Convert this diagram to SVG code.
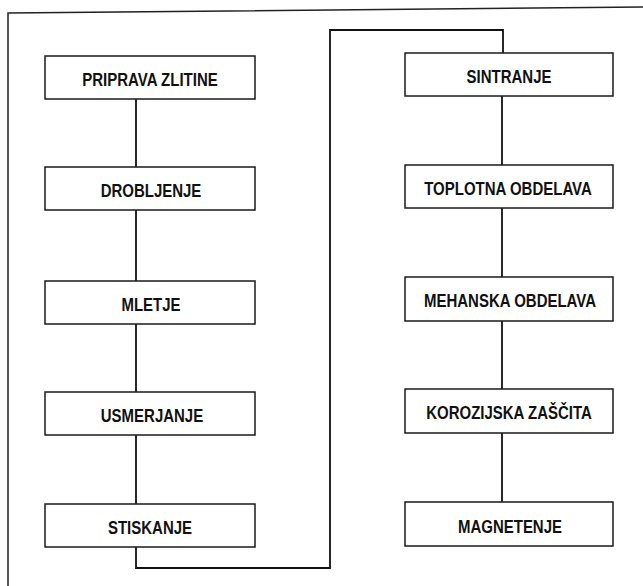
<svg xmlns="http://www.w3.org/2000/svg" width="643" height="586" viewBox="0 0 643 586">
<style>
.box{fill:#fff;stroke:#1a1a1a;stroke-width:1.5}
.lbl{font-family:"Liberation Sans",Arial,sans-serif;font-weight:bold;font-size:15px;fill:#111;text-anchor:middle}
.con{fill:none;stroke:#111;stroke-width:1.8}
.frame{fill:none;stroke:#222;stroke-width:1.5}
</style>
<rect width="643" height="586" fill="#fff"/>
<path class="frame" d="M8,586 L8,13 L643,7"/>
<g id="connectors">
<path class="con" d="M136,99 V167"/>
<path class="con" d="M136,210 V281"/>
<path class="con" d="M136,324 V392"/>
<path class="con" d="M136,435 V504"/>
<path class="con" d="M136,547 V568 H330 V30 H503 V53"/>
<path class="con" d="M502,96 V165"/>
<path class="con" d="M502,208 V277"/>
<path class="con" d="M502,321 V389"/>
<path class="con" d="M502,433 V502"/>
</g>
<g id="n1"><rect class="box" x="45" y="56" width="210" height="43"/><text class="lbl" transform="translate(150,86) scale(1,1.2)">PRIPRAVA ZLITINE</text></g>
<g id="n2"><rect class="box" x="45" y="167" width="210" height="43"/><text class="lbl" transform="translate(151,197) scale(1,1.2)">DROBLJENJE</text></g>
<g id="n3"><rect class="box" x="45" y="281" width="210" height="43"/><text class="lbl" transform="translate(151,311) scale(1,1.2)">MLETJE</text></g>
<g id="n4"><rect class="box" x="45" y="392" width="210" height="43"/><text class="lbl" transform="translate(152,422) scale(1,1.2)">USMERJANJE</text></g>
<g id="n5"><rect class="box" x="45" y="504" width="210" height="43"/><text class="lbl" transform="translate(150,534) scale(1,1.2)">STISKANJE</text></g>
<g id="n6"><rect class="box" x="405" y="53" width="208" height="43"/><text class="lbl" transform="translate(509,83) scale(1,1.2)">SINTRANJE</text></g>
<g id="n7"><rect class="box" x="405" y="165" width="208" height="43"/><text class="lbl" transform="translate(508,195) scale(1,1.2)">TOPLOTNA OBDELAVA</text></g>
<g id="n8"><rect class="box" x="405" y="277" width="208" height="44"/><text class="lbl" transform="translate(510,307) scale(1,1.2)">MEHANSKA OBDELAVA</text></g>
<g id="n9"><rect class="box" x="405" y="389" width="208" height="44"/><text class="lbl" transform="translate(509,419) scale(1,1.2)">KOROZIJSKA ZAŠČITA</text></g>
<g id="n10"><rect class="box" x="405" y="502" width="208" height="44"/><text class="lbl" transform="translate(510,533) scale(1,1.2)">MAGNETENJE</text></g>
</svg>
